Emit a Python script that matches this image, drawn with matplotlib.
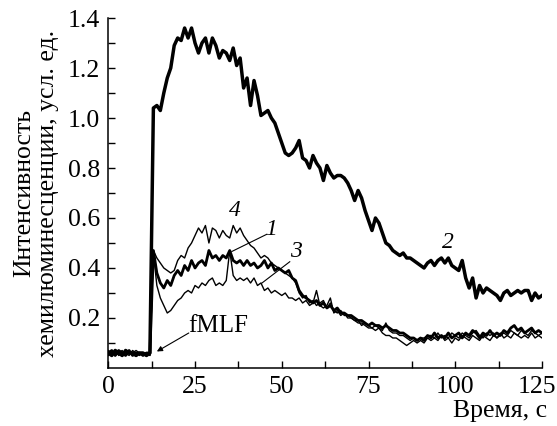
import numpy as np
import matplotlib
matplotlib.use("Agg")
import matplotlib.pyplot as plt
from matplotlib.ticker import FixedLocator, FormatStrFormatter, FixedFormatter

plt.rcParams['font.family'] = ['Liberation Serif', 'DejaVu Serif']

# time, s
time = list(range(126))

# baseline (t = 0..12)
base1 = [0.06, 0.07, 0.05, 0.07, 0.06, 0.05, 0.07, 0.05, 0.06, 0.06, 0.05, 0.06, 0.06]
base2 = [0.06, 0.05, 0.07, 0.06, 0.05, 0.07, 0.06, 0.06, 0.05, 0.06, 0.06, 0.05, 0.06]
base3 = [0.05, 0.06, 0.07, 0.05, 0.06, 0.06, 0.05, 0.07, 0.06, 0.05, 0.06, 0.06, 0.05]
base4 = [0.07, 0.06, 0.05, 0.06, 0.07, 0.05, 0.06, 0.06, 0.07, 0.06, 0.05, 0.06, 0.05]

# after fMLF (t = 13..125)
post2 = [1.04, 1.05, 1.03, 1.10, 1.16, 1.20, 1.29, 1.32, 1.31, 1.36, 1.32, 1.36,
         1.30, 1.26, 1.30, 1.32, 1.26, 1.32, 1.29, 1.24, 1.27, 1.26, 1.23, 1.28,
         1.21, 1.24, 1.12, 1.16, 1.05, 1.15, 1.09, 1.01, 1.02, 1.03, 1.00, 0.98,
         0.94, 0.90, 0.86, 0.85, 0.86, 0.88, 0.91, 0.84, 0.83, 0.80, 0.85, 0.82,
         0.80, 0.75, 0.81, 0.78, 0.76, 0.77, 0.77, 0.76, 0.74, 0.71, 0.67, 0.71,
         0.68, 0.63, 0.59, 0.55, 0.60, 0.58, 0.54, 0.50, 0.49, 0.47, 0.46, 0.45,
         0.46, 0.44, 0.44, 0.43, 0.42, 0.41, 0.40, 0.42, 0.43, 0.41, 0.43, 0.44,
         0.42, 0.44, 0.41, 0.40, 0.39, 0.43, 0.36, 0.32, 0.36, 0.28, 0.33, 0.30,
         0.32, 0.31, 0.30, 0.29, 0.27, 0.30, 0.31, 0.29, 0.30, 0.31, 0.30, 0.31,
         0.31, 0.27, 0.30, 0.28, 0.29]

post1 = [0.47, 0.38, 0.34, 0.32, 0.35, 0.33, 0.37, 0.39, 0.37, 0.41, 0.39, 0.43,
         0.40, 0.42, 0.43, 0.41, 0.47, 0.44, 0.45, 0.43, 0.45, 0.44, 0.47, 0.43,
         0.42, 0.43, 0.41, 0.43, 0.41, 0.42, 0.40, 0.41, 0.43, 0.40, 0.42, 0.39,
         0.40, 0.39, 0.38, 0.39, 0.36, 0.35, 0.31, 0.29, 0.28, 0.27, 0.26, 0.27,
         0.25, 0.26, 0.24, 0.25, 0.23, 0.24, 0.22, 0.22, 0.21, 0.21, 0.20, 0.19,
         0.19, 0.18, 0.17, 0.18, 0.17, 0.17, 0.16, 0.17, 0.16, 0.15, 0.15, 0.14,
         0.14, 0.13, 0.12, 0.12, 0.11, 0.12, 0.11, 0.13, 0.12, 0.14, 0.12, 0.13,
         0.12, 0.14, 0.12, 0.13, 0.14, 0.12, 0.14, 0.13, 0.15, 0.14, 0.12, 0.14,
         0.13, 0.15, 0.13, 0.14, 0.13, 0.15, 0.14, 0.16, 0.17, 0.15, 0.16, 0.14,
         0.15, 0.16, 0.14, 0.15, 0.14]

post3 = [0.46, 0.33, 0.28, 0.25, 0.22, 0.23, 0.25, 0.27, 0.28, 0.30, 0.31, 0.30,
         0.33, 0.32, 0.34, 0.33, 0.35, 0.36, 0.33, 0.34, 0.33, 0.35, 0.47, 0.37,
         0.35, 0.36, 0.35, 0.36, 0.34, 0.36, 0.33, 0.34, 0.31, 0.32, 0.30, 0.31,
         0.30, 0.29, 0.30, 0.28, 0.28, 0.27, 0.28, 0.26, 0.27, 0.25, 0.26, 0.31,
         0.25, 0.24, 0.25, 0.28, 0.22, 0.23, 0.21, 0.22, 0.20, 0.20, 0.19, 0.18,
         0.18, 0.17, 0.16, 0.16, 0.15, 0.16, 0.14, 0.13, 0.13, 0.12, 0.12, 0.11,
         0.10, 0.09, 0.10, 0.11, 0.10, 0.11, 0.10, 0.12, 0.11, 0.12, 0.11, 0.13,
         0.11, 0.12, 0.10, 0.12, 0.11, 0.13, 0.12, 0.11, 0.13, 0.12, 0.11, 0.13,
         0.12, 0.11, 0.13, 0.12, 0.14, 0.12, 0.13, 0.12, 0.14, 0.13, 0.12, 0.13,
         0.12, 0.14, 0.12, 0.13, 0.12]

post4 = [0.47, 0.44, 0.42, 0.40, 0.39, 0.38, 0.39, 0.43, 0.45, 0.44, 0.48, 0.50,
         0.53, 0.56, 0.54, 0.57, 0.50, 0.56, 0.55, 0.52, 0.55, 0.53, 0.52, 0.57,
         0.54, 0.56, 0.53, 0.51, 0.49, 0.48, 0.46, 0.44, 0.45, 0.44, 0.42, 0.41,
         0.40, 0.39, 0.38, 0.37, 0.36, 0.34, 0.30, 0.28, 0.29, 0.26, 0.27, 0.25,
         0.26, 0.27, 0.24, 0.26, 0.23, 0.22, 0.23, 0.21, 0.21, 0.20, 0.19, 0.19,
         0.17, 0.18, 0.17, 0.16, 0.17, 0.16, 0.15, 0.18, 0.15, 0.14, 0.14, 0.13,
         0.13, 0.12, 0.11, 0.12, 0.11, 0.12, 0.12, 0.13, 0.13, 0.12, 0.14, 0.12,
         0.13, 0.12, 0.14, 0.13, 0.12, 0.14, 0.13, 0.12, 0.14, 0.15, 0.13, 0.12,
         0.14, 0.13, 0.14, 0.12, 0.13, 0.14, 0.13, 0.15, 0.14, 0.13, 0.15, 0.14,
         0.13, 0.15, 0.14, 0.13, 0.14]

curve1 = base1 + post1
curve2 = base2 + post2
curve3 = base3 + post3
curve4 = base4 + post4

x_ticks = [0, 25, 50, 75, 100, 125]
x_tick_labels = ['0', '25', '50', '75', '100', '125']
y_ticks = [0.2, 0.4, 0.6, 0.8, 1.0, 1.2, 1.4]

fig = plt.figure(figsize=(5.57, 4.26), dpi=100)
ax = fig.add_axes([0.1944, 0.1362, 0.7787, 0.8215])

ax.plot(time, curve3, color='black', lw=1.0)
ax.plot(time, curve4, color='black', lw=1.0)
ax.plot(time, curve1, color='black', lw=2.0)
ax.plot(time, curve2, color='black', lw=2.5)

ax.set_xlim(0, 125)
ax.set_ylim(0, 1.4)

ax.spines['top'].set_visible(False)
ax.spines['right'].set_visible(False)
ax.spines['left'].set_linewidth(1.1)
ax.spines['bottom'].set_linewidth(1.1)

ax.xaxis.set_major_locator(FixedLocator(x_ticks))
# the last label is drawn separately (nudged so it stays inside the figure)
ax.xaxis.set_major_formatter(FixedFormatter(x_tick_labels[:-1] + ['']))
ax.xaxis.set_minor_locator(FixedLocator([12.5, 37.5, 62.5, 87.5, 112.5]))
ax.yaxis.set_major_locator(FixedLocator(y_ticks))
ax.yaxis.set_minor_locator(FixedLocator([0.1, 0.3, 0.5, 0.7, 0.9, 1.1, 1.3]))
ax.yaxis.set_major_formatter(FormatStrFormatter('%.1f'))
ax.tick_params(which='both', direction='in', length=5, width=1.0, labelsize=18.5)
ax.tick_params(axis='y', which='both', pad=6)
ax.tick_params(axis='x', which='both', pad=6)

ax.annotate(x_tick_labels[-1], xy=(x_ticks[-1], 0), xycoords=('data', 'axes fraction'),
            xytext=(-4, -6), textcoords='offset points', ha='center', va='top',
            fontsize=18.5)

ax.set_xlabel('Время, с', fontsize=18.5, loc='right')
ax.xaxis.set_label_coords(1.012, -0.092)
ax.set_ylabel('Интенсивность\nхемилюминесценции, усл. ед.', fontsize=18.5,
              linespacing=1.1, labelpad=6)

# curve labels
lab = dict(fontsize=17, style='italic', ha='center', va='center')
ax.text(36.5, 0.63, '4', **lab)
ax.text(46.8, 0.555, '1', **lab)
ax.text(54.0, 0.465, '3', **lab)
ax.text(98.0, 0.50, '2', **lab)

lw_lead = 0.8
ax.plot([45.7, 35.6], [0.535, 0.466], color='black', lw=lw_lead)
ax.plot([52.3, 44.3], [0.425, 0.34], color='black', lw=lw_lead)

# fMLF injection marker
ax.annotate('', xy=(14.0, 0.066), xytext=(23.2, 0.14),
            arrowprops=dict(arrowstyle='-|>', color='black', lw=lw_lead,
                            mutation_scale=8, shrinkA=0, shrinkB=0))
ax.text(31.8, 0.168, 'fMLF', fontsize=18, ha='center', va='center')

fig.savefig('out.png', dpi=100)
